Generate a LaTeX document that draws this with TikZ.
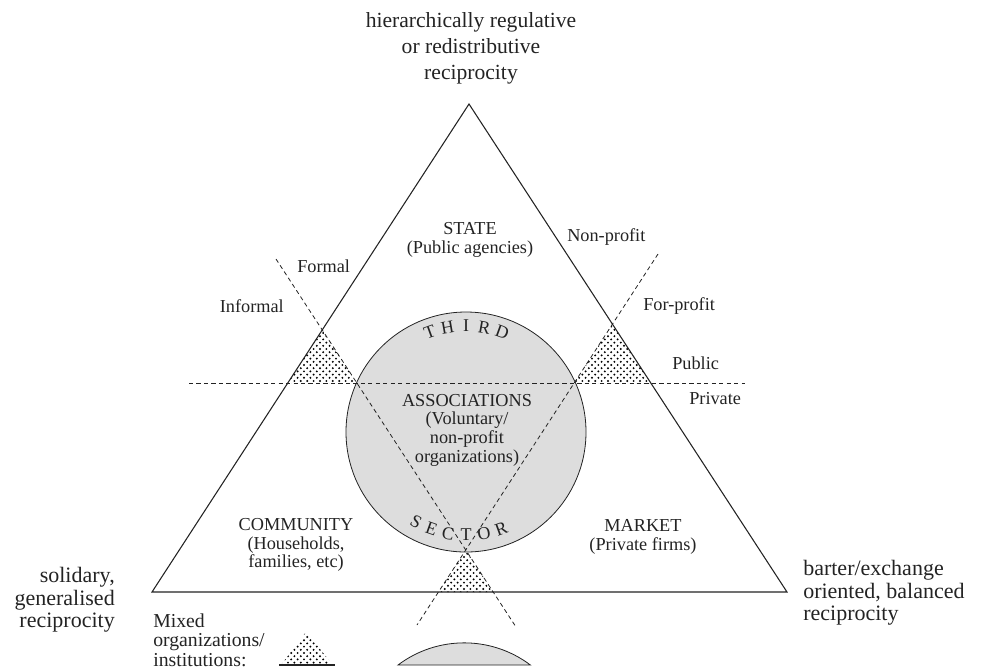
\documentclass[tikz,border=0pt]{standalone}
\usepackage{fontspec}
\setmainfont{Liberation Serif}
\usetikzlibrary{patterns.meta}

\definecolor{ink}{RGB}{35,35,35}
\definecolor{sectorgray}{RGB}{221,221,221}

\tikzset{
  edge/.style={draw=ink, line width=0.8pt},
  divide/.style={draw=ink, line width=0.6pt, dash pattern={on 3.2pt off 2.4pt}},
  mixed/.style={pattern={Dots[distance=4.8pt,radius=0.8pt]}, pattern color=black,
    postaction={pattern={Dots[distance=4.8pt,radius=0.8pt,xshift=2.4pt,yshift=2.4pt]}, pattern color=black}},
  sector/.style={draw=ink, line width=0.6pt, fill=sectorgray},
  inlabel/.style={inner sep=0.75pt, align=center, text=ink, font=\fontsize{13.7}{14}\selectfont},
  outlabel/.style={inner sep=0.75pt, text=ink, font=\fontsize{16.2}{19.5}\selectfont},
  sidelabel/.style={inner sep=0.75pt, text=ink, font=\fontsize{16.5}{16.9}\selectfont},
  legend/.style={inner sep=0.75pt, align=left, text=ink, font=\fontsize{14.8}{14.6}\selectfont},
  arcletter/.style={inner sep=0pt, text=ink, font=\fontsize{13.5}{13.5}\selectfont},
}

\begin{document}
\begin{tikzpicture}[x=0.75pt,y=0.75pt,yscale=-1,xscale=1]
\useasboundingbox (0,0) rectangle (981,669);

% corners of the big triangle
\coordinate (apex) at (469,104);
\coordinate (lft) at (152,592);
\coordinate (rgt) at (787,592);
% ends of the dashed dividers
\coordinate (fmlA) at (276,259);
\coordinate (fmlB) at (516,627);
\coordinate (prfA) at (658,254);
\coordinate (prfB) at (417,625);
\coordinate (pubA) at (189,383);
\coordinate (pubB) at (745,383);
\coordinate (ctr) at (466,432);

%Shape: Circle
\draw[sector] (ctr) circle[radius=120];

%Shape: dotted triangles
\fill[mixed] (intersection of apex--lft and fmlA--fmlB) -- (intersection of apex--lft and pubA--pubB) -- (intersection of fmlA--fmlB and pubA--pubB) -- cycle;
\fill[mixed] (intersection of apex--rgt and prfA--prfB) -- (intersection of prfA--prfB and pubA--pubB) -- (intersection of apex--rgt and pubA--pubB) -- cycle;
\fill[mixed] (intersection of fmlA--fmlB and prfA--prfB) -- (intersection of prfA--prfB and lft--rgt) -- (intersection of fmlA--fmlB and lft--rgt) -- cycle;

%Shape: Triangle
\draw[edge] (apex) -- (lft) -- (rgt) -- cycle;

%Straight Lines
\draw[divide] (fmlA) -- (fmlB);
\draw[divide] (prfA) -- (prfB);
\draw[divide] (pubA) -- (pubB);

% letters round the circle
\foreach \ch/\a [count=\i] in {T/110,H/100,I/90,R/80,D/70}
  \path (ctr) ++(-\a:106) node[arcletter, rotate=\a-90] (third\i) {\ch};
\foreach \ch/\a [count=\i] in {S/119,E/109.5,C/100,T/90,O/80,R/70}
  \path (ctr) ++(\a:103) node[arcletter, rotate=90-\a] (sector\i) {\ch};

% Text Node
\node[outlabel, align=center] (topnote) at (471,48) {hierarchically regulative\\or redistributive\\reciprocity};
% Text Node
\node[inlabel] (state) at (470,240) {STATE\\(Public agencies)};
% Text Node
\node[inlabel, anchor=west] (nonprofit) at (566,237) {Non-profit};
% Text Node
\node[inlabel, anchor=west] (formal) at (296,266) {Formal};
% Text Node
\node[inlabel, anchor=east] (informal) at (285,306) {Informal};
% Text Node
\node[inlabel, anchor=west] (forprofit) at (642,306) {For-profit};
% Text Node
\node[inlabel, anchor=west] (public) at (671,363) {Public};
% Text Node
\node[inlabel, anchor=west] (private) at (688,399) {Private};
% Text Node
\node[inlabel] (assoc) at (467,430) {ASSOCIATIONS\\(Voluntary/\\non-profit\\organizations)};
% Text Node
\node[inlabel] (community) at (296,545) {COMMUNITY\\(Households,\\families, etc)};
% Text Node
\node[inlabel] (market) at (643,537) {MARKET\\(Private firms)};
% Text Node
\node[sidelabel, align=right, anchor=east] (solidary) at (116,600) {solidary,\\generalised\\reciprocity};
% Text Node
\node[sidelabel, align=left, anchor=west] (barter) at (802,593) {barter/exchange\\oriented, balanced\\reciprocity};

% legend
\node[legend, anchor=west] (mixd) at (152,640) {Mixed\\organizations/\\institutions:};
\fill[mixed] (306,632) -- (281,665) -- (333,665) -- cycle;
\draw[edge] (279,665) -- (335,665);
\draw[sector] (398,665) arc[start angle=-127, end angle=-53, radius=110] -- cycle;

\end{tikzpicture}
\end{document}
